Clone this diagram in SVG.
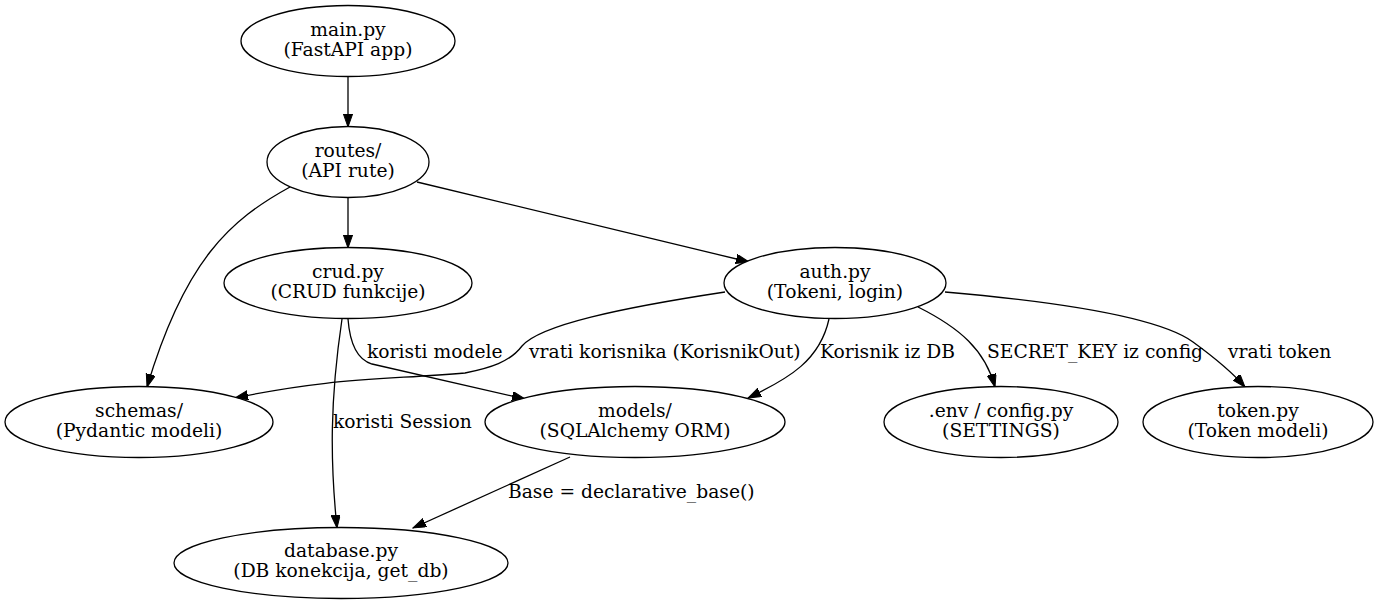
<svg xmlns="http://www.w3.org/2000/svg" width="1380" height="604" viewBox="0 0 1380 604">
  <style>
    .node ellipse { fill: #ffffff; stroke: #000000; stroke-width: 1.3; }
    .node text { font-family: "DejaVu Serif", "Liberation Serif", serif; font-size: 18.7px; fill: #000000; text-anchor: middle; }
    .edges path { fill: none; stroke: #000000; stroke-width: 1.3; marker-end: url(#arrow); }
    .edges text { font-family: "DejaVu Serif", "Liberation Serif", serif; font-size: 18.7px; fill: #000000; }
  </style>
  <defs>
    <marker id="arrow" markerUnits="userSpaceOnUse" markerWidth="14" markerHeight="10" refX="13" refY="4.6" orient="auto">
      <path d="M0,0 L13,4.6 L0,9.2 z" fill="#000000" stroke="#000000" stroke-width="1"/>
    </marker>
  </defs>
  <rect width="1380" height="604" fill="#ffffff"/>

  <g class="edges" id="connectors">
    <!-- main -> routes -->
    <path d="M348,77 L348,127"/>
    <!-- routes -> crud -->
    <path d="M348,198 L348,248"/>
    <!-- routes -> auth -->
    <path d="M417,182 L749,262"/>
    <!-- routes -> schemas -->
    <path d="M290,187 C230,220 185,260 147,387"/>
    <!-- crud -> database -->
    <path d="M342,319 C330,400 330,460 337,528"/>
    <text x="333" y="428">koristi Session</text>
    <!-- crud -> models -->
    <path d="M348,319 C350,345 358,360 372,364 L525,399"/>
    <text x="367" y="358">koristi modele</text>
    <!-- auth -> schemas -->
    <path d="M725,292 C620,308 540,325 522,346 C510,362 490,368 465,373 C380,380 330,378 235,398"/>
    <text x="529" y="358">vrati korisnika (KorisnikOut)</text>
    <!-- auth -> models -->
    <path d="M829,319 C820,360 790,378 748,398"/>
    <text x="820" y="358">Korisnik iz DB</text>
    <!-- auth -> config -->
    <path d="M918,307 C960,328 985,350 995,387"/>
    <text x="987" y="358">SECRET_KEY iz config</text>
    <!-- auth -> token -->
    <path d="M945,292 C1060,302 1160,318 1193,342 C1215,358 1232,372 1245,387"/>
    <text x="1228" y="358">vrati token</text>
    <!-- models -> database -->
    <path d="M570,457 L413,528"/>
    <text x="508" y="498">Base = declarative_base()</text>
  </g>

  <g class="node" id="main">
    <ellipse cx="348" cy="41" rx="107" ry="35.5"/>
    <text x="348" y="36">main.py</text>
    <text x="348" y="56">(FastAPI app)</text>
  </g>
  <g class="node" id="routes">
    <ellipse cx="348" cy="162" rx="81" ry="35.5"/>
    <text x="348" y="157">routes/</text>
    <text x="348" y="177">(API rute)</text>
  </g>
  <g class="node" id="crud">
    <ellipse cx="348" cy="283" rx="124" ry="35.5"/>
    <text x="348" y="278">crud.py</text>
    <text x="348" y="298">(CRUD funkcije)</text>
  </g>
  <g class="node" id="auth">
    <ellipse cx="835" cy="283" rx="111" ry="35.5"/>
    <text x="835" y="278">auth.py</text>
    <text x="835" y="298">(Tokeni, login)</text>
  </g>
  <g class="node" id="schemas">
    <ellipse cx="139" cy="422" rx="134" ry="35.5"/>
    <text x="139" y="417">schemas/</text>
    <text x="139" y="437">(Pydantic modeli)</text>
  </g>
  <g class="node" id="models">
    <ellipse cx="635" cy="422" rx="150" ry="35.5"/>
    <text x="635" y="417">models/</text>
    <text x="635" y="437">(SQLAlchemy ORM)</text>
  </g>
  <g class="node" id="config">
    <ellipse cx="1001" cy="422" rx="117" ry="35.5"/>
    <text x="1001" y="417">.env / config.py</text>
    <text x="1001" y="437">(SETTINGS)</text>
  </g>
  <g class="node" id="token">
    <ellipse cx="1258" cy="422" rx="115" ry="35.5"/>
    <text x="1258" y="417">token.py</text>
    <text x="1258" y="437">(Token modeli)</text>
  </g>
  <g class="node" id="database">
    <ellipse cx="341" cy="563" rx="167" ry="35.5"/>
    <text x="341" y="557">database.py</text>
    <text x="341" y="577">(DB konekcija, get_db)</text>
  </g>
</svg>
